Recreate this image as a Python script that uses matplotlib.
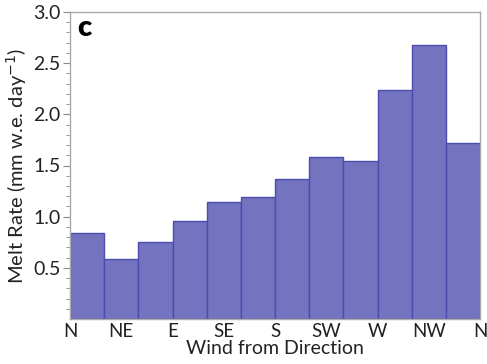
import matplotlib
matplotlib.use("Agg")
import matplotlib.pyplot as plt
import numpy as np

plt.rcParams['font.family'] = ['Lato', 'DejaVu Sans']

bin_left_deg = [0, 30, 60, 90, 120, 150, 180, 210, 240, 270, 300, 330]
melt_rate = [0.84, 0.59, 0.75, 0.96, 1.14, 1.19, 1.37, 1.58, 1.54, 2.24, 2.68, 1.72]
tick_deg = [0, 45, 90, 135, 180, 225, 270, 315, 360]
tick_labels = ['N', 'NE', 'E', 'SE', 'S', 'SW', 'W', 'NW', 'N']

fig = plt.figure(figsize=(4.87, 3.64), dpi=100)
ax = fig.add_axes([70/487, 1-319/364, 410/487, 307/364])

ax.bar(bin_left_deg, melt_rate, width=30, align='edge',
       color='#7373bf', edgecolor='#4b4bb0', linewidth=1.0)

ax.set_xlim(0, 360)
ax.set_ylim(0, 3.0)
ax.set_xticks(tick_deg)
ax.set_xticklabels(tick_labels)
ax.set_yticks([0.5, 1.0, 1.5, 2.0, 2.5, 3.0])
ax.set_yticklabels(['0.5', '1.0', '1.5', '2.0', '2.5', '3.0'])
ax.set_yticks(np.arange(0.1, 3.0, 0.1), minor=True)
ax.tick_params(axis='x', length=0, labelsize=13.5, pad=3, colors='#222222')
ax.tick_params(axis='y', which='major', length=5, width=0.8, color='#888888', labelsize=14, labelcolor='#222222', pad=2)
ax.tick_params(axis='y', which='minor', length=3, width=0.6, color='#888888')
for s in ax.spines.values():
    s.set_color('#aaaaaa')
    s.set_linewidth(1.0)

ax.set_xlabel('Wind from Direction', fontsize=14, labelpad=0, color='#222222')
ax.set_ylabel('Melt Rate (mm w.e. day$^{-1}$)', fontsize=14.5, color='#222222', labelpad=3)
ax.text(0.018, 0.99, 'c', transform=ax.transAxes, fontsize=21, fontweight='heavy',
        va='top', ha='left', color='black')

fig.savefig('out.png', dpi=100)
